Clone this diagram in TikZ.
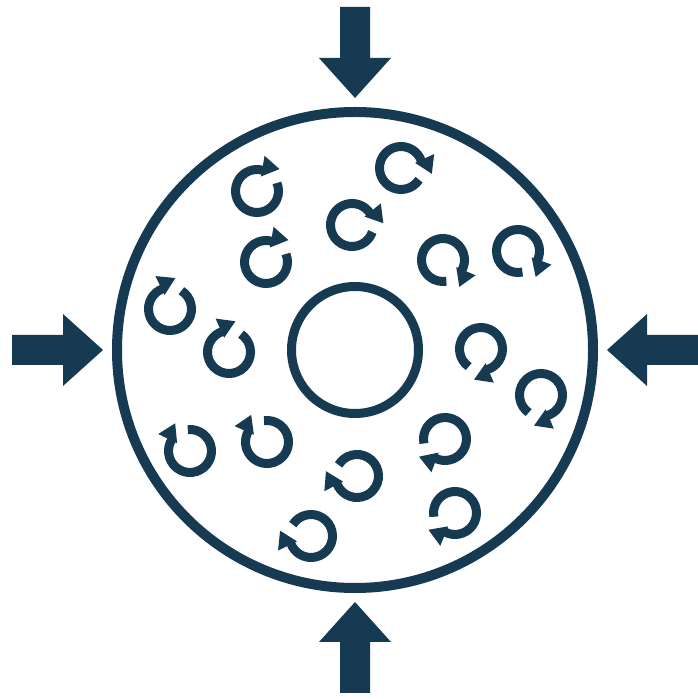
\documentclass[tikz,border=0pt]{standalone}
\definecolor{navy}{HTML}{163A52}
\tikzset{
  ringline/.style={draw=navy, line width=10pt},
  innerline/.style={draw=navy, line width=9pt},
  swirl/.pic={
    \draw[navy, line width=9pt] (22:21.5pt) arc[start angle=22, end angle=-286, radius=21.5pt];
    \fill[navy] (3.91pt,14.5pt) -- (22.5pt,21.9pt) -- (7.57pt,35.2pt) -- cycle;
  },
  bigarrow/.pic={
    \fill[navy] (0,0) -- (-40pt,36pt) -- (-40pt,15pt) -- (-91pt,15pt) -- (-91pt,-15pt) -- (-40pt,-15pt) -- (-40pt,-36pt) -- cycle;
  }
}
\begin{document}
\begin{tikzpicture}[x=1pt,y=1pt]
\useasboundingbox (0,0) rectangle (697,699);
% outer and inner circles
\draw[ringline] (355,349) circle[radius=238pt];
\draw[innerline] (355,349) circle[radius=63.5pt];
% compression arrows
\pic at (103,349) {bigarrow};
\pic[rotate=180] at (607,349) {bigarrow};
\pic[rotate=-90] at (355,601) {bigarrow};
\pic[rotate=90] at (355,97) {bigarrow};
% rotating particles
\pic[rotate=0] at (257,508) {swirl};
\pic[rotate=-55] at (401,531) {swirl};
\pic[rotate=-41] at (352,474) {swirl};
\pic[rotate=0] at (266,437) {swirl};
\pic[rotate=-103] at (443,439) {swirl};
\pic[rotate=-100] at (518,448) {swirl};
\pic[rotate=36] at (170,390) {swirl};
\pic[rotate=34] at (229,347) {swirl};
\pic[rotate=-147] at (481,350) {swirl};
\pic[rotate=-147] at (541,304) {swirl};
\pic[rotate=74] at (190,248) {swirl};
\pic[rotate=76] at (267,257) {swirl};
\pic[rotate=170] at (445,260) {swirl};
\pic[rotate=127] at (357,223) {swirl};
\pic[rotate=168] at (455,186) {swirl};
\pic[rotate=126] at (311,163) {swirl};
\end{tikzpicture}
\end{document}
